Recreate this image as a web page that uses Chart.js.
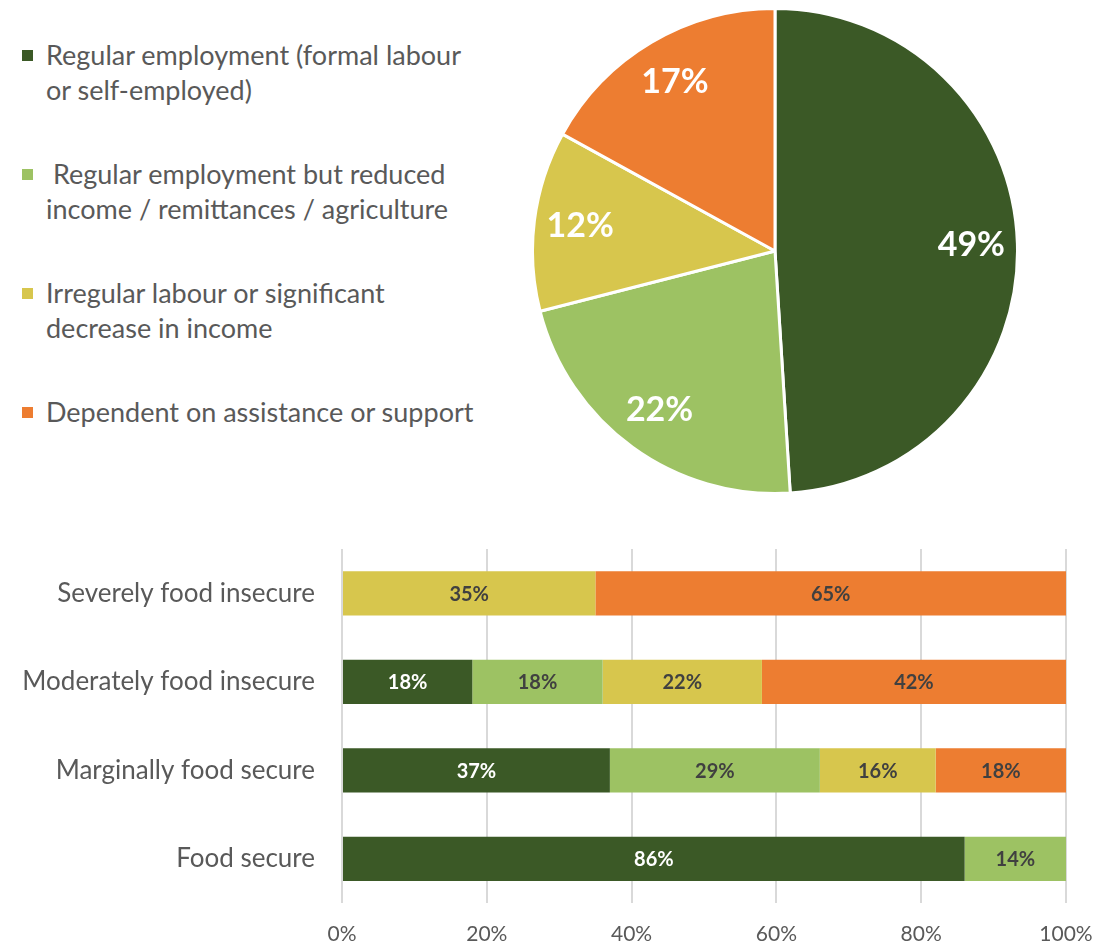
<!DOCTYPE html>
<html>
<head>
<meta charset="utf-8">
<script src="https://cdn.jsdelivr.net/npm/chart.js@4.4.1/dist/chart.umd.min.js"></script>
<style>
    body { margin: 0; background: #fff; font-family: Lato, sans-serif; }
    #page { position: relative; width: 1117px; height: 943px; overflow: hidden; }
    #legend { position: absolute; left: 22px; top: 37px; width: 490px; }
    .legend-item { position: relative; padding-left: 24px; margin-bottom: 49px; color: #595959; font-size: 27px; line-height: 35px; white-space: pre; }
    .legend-box { position: absolute; left: 0; top: 13px; width: 11px; height: 11px; }
    #pie-wrap { position: absolute; left: 531px; top: 7px; width: 488px; height: 488px; }
    #bar-wrap { position: absolute; left: 0; top: 549px; width: 1117px; height: 394px; }
</style>
</head>
<body>
<div id="page">
    <div id="legend"></div>
    <div id="pie-wrap"><canvas id="pieChart"></canvas></div>
    <div id="bar-wrap"><canvas id="barChart"></canvas></div>
</div>
<script>
// series (livelihood source), wrapped like the original legend
const seriesNames = [
    'Regular employment (formal labour\nor self-employed)',
    ' Regular employment but reduced\nincome / remittances / agriculture',
    'Irregular labour or significant\ndecrease in income',
    'Dependent on assistance or support'
];
const seriesColors = ['#3b5926', '#9dc263', '#d7c64d', '#ed7d31'];
const labelColors = ['#ffffff', '#404040', '#404040', '#404040'];

// pie: overall share per series (%)
const pieShares = [49, 22, 12, 17];

// bar: food security groups
const categories = ['Severely food insecure', 'Moderately food insecure', 'Marginally food secure', 'Food secure'];
const regularEmployment = [0, 18, 37, 86];
const reducedIncome = [0, 18, 29, 14];
const irregularLabour = [35, 22, 16, 0];
const dependentAssistance = [65, 42, 18, 0];

const xTickStep = 20;

const textGrey = '#595959';

function buildLegend() {
    const legend = document.getElementById('legend');
    seriesNames.forEach((name, i) => {
        const item = document.createElement('div');
        item.className = 'legend-item';
        const box = document.createElement('span');
        box.className = 'legend-box';
        box.style.background = seriesColors[i];
        item.appendChild(box);
        item.appendChild(document.createTextNode(name));
        legend.appendChild(item);
    });
}

// draws the % labels on pie slices and bar segments
const valueLabels = {
    id: 'valueLabels',
    afterDatasetsDraw(chart) {
        const ctx = chart.ctx;
        ctx.save();
        ctx.textAlign = 'center';
        ctx.textBaseline = 'middle';
        if (chart.config.type === 'pie') {
            const meta = chart.getDatasetMeta(0);
            ctx.font = 'bold 34px Lato';
            ctx.fillStyle = '#ffffff';
            meta.data.forEach((arc, i) => {
                const mid = (arc.startAngle + arc.endAngle) / 2;
                const r = arc.outerRadius * 0.81;
                ctx.fillText(pieShares[i] + '%', arc.x + Math.cos(mid) * r, arc.y + Math.sin(mid) * r);
            });
        } else {
            ctx.font = 'bold 20px Lato';
            chart.data.datasets.forEach((ds, di) => {
                const meta = chart.getDatasetMeta(di);
                meta.data.forEach((bar, i) => {
                    const v = ds.data[i];
                    if (!v) return;
                    ctx.fillStyle = labelColors[di];
                    ctx.fillText(v + '%', (bar.x + bar.base) / 2, bar.y + 1);
                });
            });
        }
        ctx.restore();
    }
};

function renderPie() {
    const ctx = document.getElementById('pieChart').getContext('2d');
    new Chart(ctx, {
        type: 'pie',
        data: {
            labels: seriesNames,
            datasets: [{
                data: pieShares,
                backgroundColor: seriesColors,
                borderColor: '#ffffff',
                borderWidth: 3
            }]
        },
        options: {
            responsive: true,
            maintainAspectRatio: false,
            animation: false,
            plugins: { legend: { display: false }, tooltip: { enabled: false } }
        },
        plugins: [valueLabels]
    });
}

function renderBars() {
    const ctx = document.getElementById('barChart').getContext('2d');
    const seriesData = [regularEmployment, reducedIncome, irregularLabour, dependentAssistance];
    new Chart(ctx, {
        type: 'bar',
        data: {
            labels: categories,
            datasets: seriesData.map((d, i) => ({
                label: seriesNames[i],
                data: d,
                backgroundColor: seriesColors[i],
                categoryPercentage: 1,
                barPercentage: 0.5
            }))
        },
        options: {
            indexAxis: 'y',
            responsive: true,
            maintainAspectRatio: false,
            animation: false,
            layout: { padding: { left: 0, right: 51, top: 0, bottom: 0 } },
            scales: {
                x: {
                    stacked: true,
                    min: 0,
                    max: 100,
                    border: { display: false },
                    grid: { color: '#d9d9d9', lineWidth: 2, drawTicks: false },
                    ticks: {
                        stepSize: xTickStep,
                        padding: 19,
                        color: textGrey,
                        font: { family: 'Lato', size: 21 },
                        callback: v => v + '%'
                    },
                    afterFit: scale => { scale.height = 40; }
                },
                y: {
                    stacked: true,
                    border: { display: false },
                    grid: { display: false, drawTicks: false },
                    ticks: {
                        padding: 27,
                        color: textGrey,
                        font: { family: 'Lato', size: 26 }
                    },
                    afterFit: scale => {
                        scale.width = 342;
                        scale.paddingTop = 0;
                        scale.paddingBottom = 0;
                    }
                }
            },
            plugins: { legend: { display: false }, tooltip: { enabled: false } }
        },
        plugins: [valueLabels]
    });
}

document.addEventListener('DOMContentLoaded', () => {
    buildLegend();
    Promise.all([
        document.fonts.load('24px Lato'),
        document.fonts.load('bold 20px Lato')
    ]).finally(() => {
        renderPie();
        renderBars();
    });
});
</script>
</body>
</html>
